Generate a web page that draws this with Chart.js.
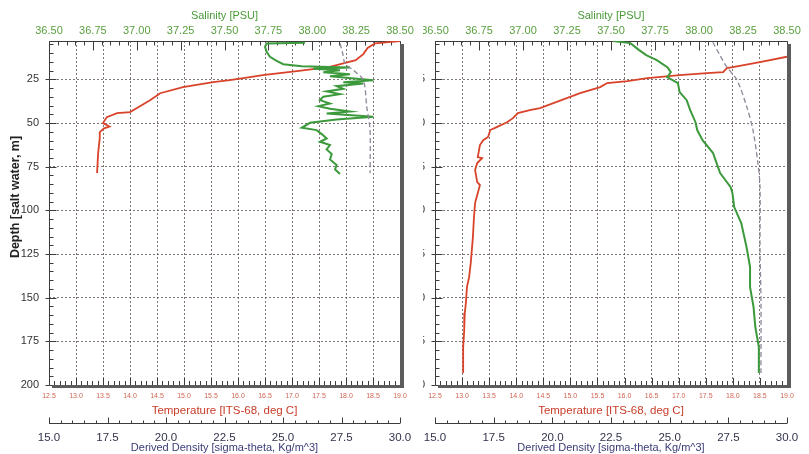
<!DOCTYPE html>
<html><head><meta charset="utf-8">
<script src="https://cdn.jsdelivr.net/npm/chart.js@4.4.1/dist/chart.umd.min.js"></script>
<style>
html,body{margin:0;padding:0;background:#fff;}
#wrap{position:relative;width:809px;height:454px;overflow:hidden;background:#fff;}
#c1{position:absolute;left:0;top:0;}
#c2{position:absolute;left:423px;top:0;}
</style></head><body>
<div id="wrap"><canvas id="c1" width="423" height="454"></canvas><canvas id="c2" width="386" height="454"></canvas></div>
<script>
// ---------- tick labels ----------
const salinityTicks = [36.5, 36.75, 37.0, 37.25, 37.5, 37.75, 38.0, 38.25, 38.5];
const temperatureTicks = [12.5, 13.0, 13.5, 14.0, 14.5, 15.0, 15.5, 16.0, 16.5, 17.0, 17.5, 18.0, 18.5, 19.0];
const densityTicks = [15.0, 17.5, 20.0, 22.5, 25.0, 27.5, 30.0];
const depthTicks = [25, 50, 75, 100, 125, 150, 175, 200];

// ---------- left profile ----------
const leftTempDepth = [3.1,4.3,7.0,10.5,14.0,15.8,17.8,19.1,20.3,22.6,23.7,25.4,26.6,29.4,32.9,36.9,41.4,43.7,44.3,46.6,50.0,52.0,53.0,55.2,58.6,67.2,78.6];
const leftTemp = [19.0,18.54,18.40,18.32,18.18,17.95,17.70,17.39,17.09,16.46,16.22,15.85,15.54,14.98,14.56,14.37,14.13,14.00,13.76,13.57,13.50,13.62,13.52,13.44,13.44,13.41,13.39];

const leftSalDepth = [4.05,4.43,6.34,9.20,12.06,14.35,16.26,17.40,18.16,18.93,19.69,20.84,21.98,23.13,25.42,26.56,27.32,28.85,30.38,31.90,33.43,34.96,36.86,38.77,40.30,41.83,43.35,44.49,46.40,47.93,49.84,52.70,54.04,56.33,58.81,60.72,62.62,65.10,67.77,70.83,74.07,76.55,79.22];
const leftSal = [37.959,37.740,37.731,37.740,37.759,37.797,37.835,37.940,38.215,38.006,38.158,38.063,38.215,38.101,38.348,38.177,38.291,38.139,38.177,38.082,38.158,38.063,38.044,38.101,38.035,38.101,38.215,38.082,38.348,38.139,37.987,37.940,38.025,38.054,38.082,38.044,38.101,38.082,38.111,38.101,38.139,38.130,38.158];

const leftDensDepth = [4.4,10.0,15.9,19.7,25.4,40.7,54.0,78.8];
const leftDens = [27.44,27.55,27.65,28.00,28.43,28.58,28.72,28.72];

// ---------- right profile ----------
const rightTempDepth = [12.0,15.1,18.0,18.5,20.8,21.4,22.6,24.3,26.0,27.1,29.4,32.9,41.4,42.6,44.3,47.2,49.5,52.3,54.0,58.0,59.8,62.6,69.5,70.1,72.9,76.9,83.8,85.5,90.1,95.8,103.8,115.3,130.2,138.2,143.9,153.1,158.8,168.5,178.3,187.4,193.1];
const rightTemp = [19.0,18.50,18.00,17.89,17.82,17.52,17.02,16.42,16.05,15.68,15.55,15.18,14.44,14.25,14.03,13.94,13.83,13.64,13.52,13.48,13.39,13.33,13.29,13.37,13.28,13.24,13.28,13.33,13.29,13.24,13.22,13.20,13.16,13.13,13.09,13.07,13.05,13.04,13.02,13.02,13.02];

const rightSalDepth = [3.0,4.2,8.2,11.1,14.0,18.0,20.8,23.7,27.1,32.3,36.9,42.6,49.5,54.0,59.8,67.2,72.9,78.6,86.7,90.1,98.1,107.3,121.0,132.4,143.9,155.4,166.8,178.3,193.1];
const rightSal = [37.51,37.61,37.66,37.70,37.76,37.82,37.84,37.82,37.88,37.89,37.93,37.95,37.98,37.99,38.02,38.08,38.10,38.12,38.18,38.19,38.20,38.24,38.27,38.29,38.29,38.31,38.32,38.34,38.34];

const rightDensDepth = [3.7,11.1,18.0,25.4,40.9,54.0,72.9,86.7,122.7,151.3,193.1];
const rightDens = [26.84,27.14,27.44,27.87,28.29,28.55,28.76,28.85,28.85,28.89,28.89];

// ---------- helpers ----------
const FAM = "'Liberation Sans', Arial, sans-serif";
const pts = (xs, ys) => xs.map((v, i) => ({x: v, y: ys[i]}));
const asTicks = arr => s => { s.ticks = arr.map(v => ({value: v})); };
const fitH = h => s => { s.height = h; s.paddingLeft = 0; s.paddingRight = 0; s.paddingTop = 0; s.paddingBottom = 0; };
const fitW = w => s => { s.width = w; s.paddingLeft = 0; s.paddingRight = 0; s.paddingTop = 0; s.paddingBottom = 0; };

const axisDecor = {
  id: 'axisDecor',
  beforeDatasetsDraw(chart, args, o) {
    const {ctx, chartArea: a, scales} = chart;
    ctx.save();
    ctx.strokeStyle = '#3c3c3c';
    ctx.lineWidth = 1;
    ctx.setLineDash([]);
    const line = (x1, y1, x2, y2) => { ctx.beginPath(); ctx.moveTo(x1, y1); ctx.lineTo(x2, y2); ctx.stroke(); };
    const L = Math.round(a.left) + 0.5, T = Math.round(a.top) + 0.5, R = Math.round(a.right), B = Math.round(a.bottom);
    line(L, T, R, T);
    line(L, T, L, B);
    const sx = scales.x2;
    for (let i = 0; i <= 40; i++) {
      const px = Math.round(sx.getPixelForValue(36.5 + i * 0.05)) + 0.5;
      line(px, T, px, T + (i % 5 === 0 ? 9 : 4));
    }
    const sy = scales.y;
    for (let v = 5; v <= 200; v += 5) {
      const py = Math.round(sy.getPixelForValue(v)) + 0.5;
      const major = v % 25 === 0;
      line(L, py, L + (major ? 7 : 4), py);
      if (major) line(L - 4, py, L, py);
    }
    const tx = scales.x;
    for (let i = 0; i <= 65; i++) {
      const px = Math.round(tx.getPixelForValue(12.5 + i * 0.1)) + 0.5;
      line(px, B, px, B - (i % 5 === 0 ? 7 : 4));
    }
    const dx = scales.x3;
    const dyl = 423.5;
    line(dx.getPixelForValue(15), dyl, dx.getPixelForValue(30), dyl);
    for (let i = 0; i <= 30; i++) {
      const px = Math.round(dx.getPixelForValue(15 + i * 0.5)) + 0.5;
      line(px, dyl, px, dyl - (i % 5 === 0 ? 6 : 3));
    }
    ctx.fillStyle = '#5c5c5c';
    ctx.fillRect(R, a.top + 3, 4, B - a.top);
    ctx.fillRect(a.left + 3, B, R - a.left + 1, 3);
    ctx.restore();
  },
  afterDraw(chart, args, o) {
    if (!o.yTitle) return;
    const ctx = chart.ctx;
    ctx.save();
    ctx.translate(16, 197);
    ctx.rotate(-Math.PI / 2);
    ctx.font = 'bold 12.5px ' + FAM;
    ctx.fillStyle = '#222';
    ctx.textAlign = 'center';
    ctx.textBaseline = 'middle';
    ctx.fillText('Depth [salt water, m]', 0, 0);
    ctx.restore();
  }
};

function makeChart(id, d, yWidth, padRight, yTitle) {
  const gridColor = 'rgba(95,85,85,0.8)';
  return new Chart(document.getElementById(id), {
    type: 'scatter',
    data: {
      datasets: [
        {label: 'Density', data: pts(d.dens, d.densDepth), xAxisID: 'x3', yAxisID: 'y', showLine: true, pointRadius: 0,
         borderColor: '#8e8798', borderWidth: 1.3, borderDash: [5, 3], tension: 0.3},
        {label: 'Salinity', data: pts(d.sal, d.salDepth), xAxisID: 'x2', yAxisID: 'y', showLine: true, pointRadius: 0,
         borderColor: '#3c9a3c', borderWidth: 2},
        {label: 'Temperature', data: pts(d.temp, d.tempDepth), xAxisID: 'x', yAxisID: 'y', showLine: true, pointRadius: 0,
         borderColor: '#d8432a', borderWidth: 1.8}
      ]
    },
    options: {
      responsive: false, animation: false,
      layout: {autoPadding: false, padding: {left: 0, right: padRight, top: 0, bottom: 0}},
      plugins: {legend: {display: false}, tooltip: {enabled: false}, axisDecor: {yTitle: yTitle}},
      scales: {
        y: {type: 'linear', position: 'left', reverse: true, min: 3, max: 200,
            afterBuildTicks: asTicks(depthTicks), afterFit: fitW(yWidth),
            ticks: {font: {size: 11, family: FAM}, color: '#333', padding: 10},
            grid: {color: gridColor, lineWidth: 1, drawTicks: false},
            border: {display: false, dash: [2, 2]}},
        x: {type: 'linear', position: 'bottom', weight: 0, min: 12.5, max: 19,
            afterBuildTicks: asTicks(temperatureTicks), afterFit: fitH(33),
            ticks: {font: {size: 7, family: FAM}, color: '#d06552', padding: 6.8, autoSkip: false, maxRotation: 0,
                    callback: v => Number(v).toFixed(1)},
            grid: {color: gridColor, lineWidth: 1, drawTicks: false},
            border: {display: false, dash: [2, 2]},
            title: {display: true, text: 'Temperature [ITS-68, deg C]', color: '#c83c28',
                    font: {size: 11.5, family: FAM}, padding: {top: 0, bottom: 0}}},
        x2: {type: 'linear', position: 'top', min: 36.5, max: 38.5,
             afterBuildTicks: asTicks(salinityTicks), afterFit: fitH(41),
             ticks: {font: {size: 11, family: FAM}, color: '#5aa040', padding: 3.4, autoSkip: false, maxRotation: 0,
                     callback: v => Number(v).toFixed(2)},
             grid: {display: false, drawTicks: false},
             border: {display: false},
             title: {display: true, text: 'Salinity [PSU]', color: '#4a9a3a',
                     font: {size: 11, family: FAM}, padding: {top: 8.9, bottom: 0}}},
        x3: {type: 'linear', position: 'bottom', weight: 1, min: 15, max: 30,
             afterBuildTicks: asTicks(densityTicks), afterFit: fitH(36),
             ticks: {font: {size: 11.5, family: FAM}, color: '#33334d', padding: 12.6, autoSkip: false, maxRotation: 0,
                     callback: v => Number(v).toFixed(1)},
             grid: {display: false, drawTicks: false},
             border: {display: false},
             title: {display: true, text: 'Derived Density [sigma-theta, Kg/m^3]', color: '#3b3b78',
                     font: {size: 11, family: FAM, lineHeight: 1}, padding: {top: 0, bottom: 0.5}}}
      }
    },
    plugins: [axisDecor]
  });
}

makeChart('c1', {temp: leftTemp, tempDepth: leftTempDepth, sal: leftSal, salDepth: leftSalDepth, dens: leftDens, densDepth: leftDensDepth}, 49, 23, true);
makeChart('c2', {temp: rightTemp, tempDepth: rightTempDepth, sal: rightSal, salDepth: rightSalDepth, dens: rightDens, densDepth: rightDensDepth}, 12, 22, false);
</script>
</body></html>
